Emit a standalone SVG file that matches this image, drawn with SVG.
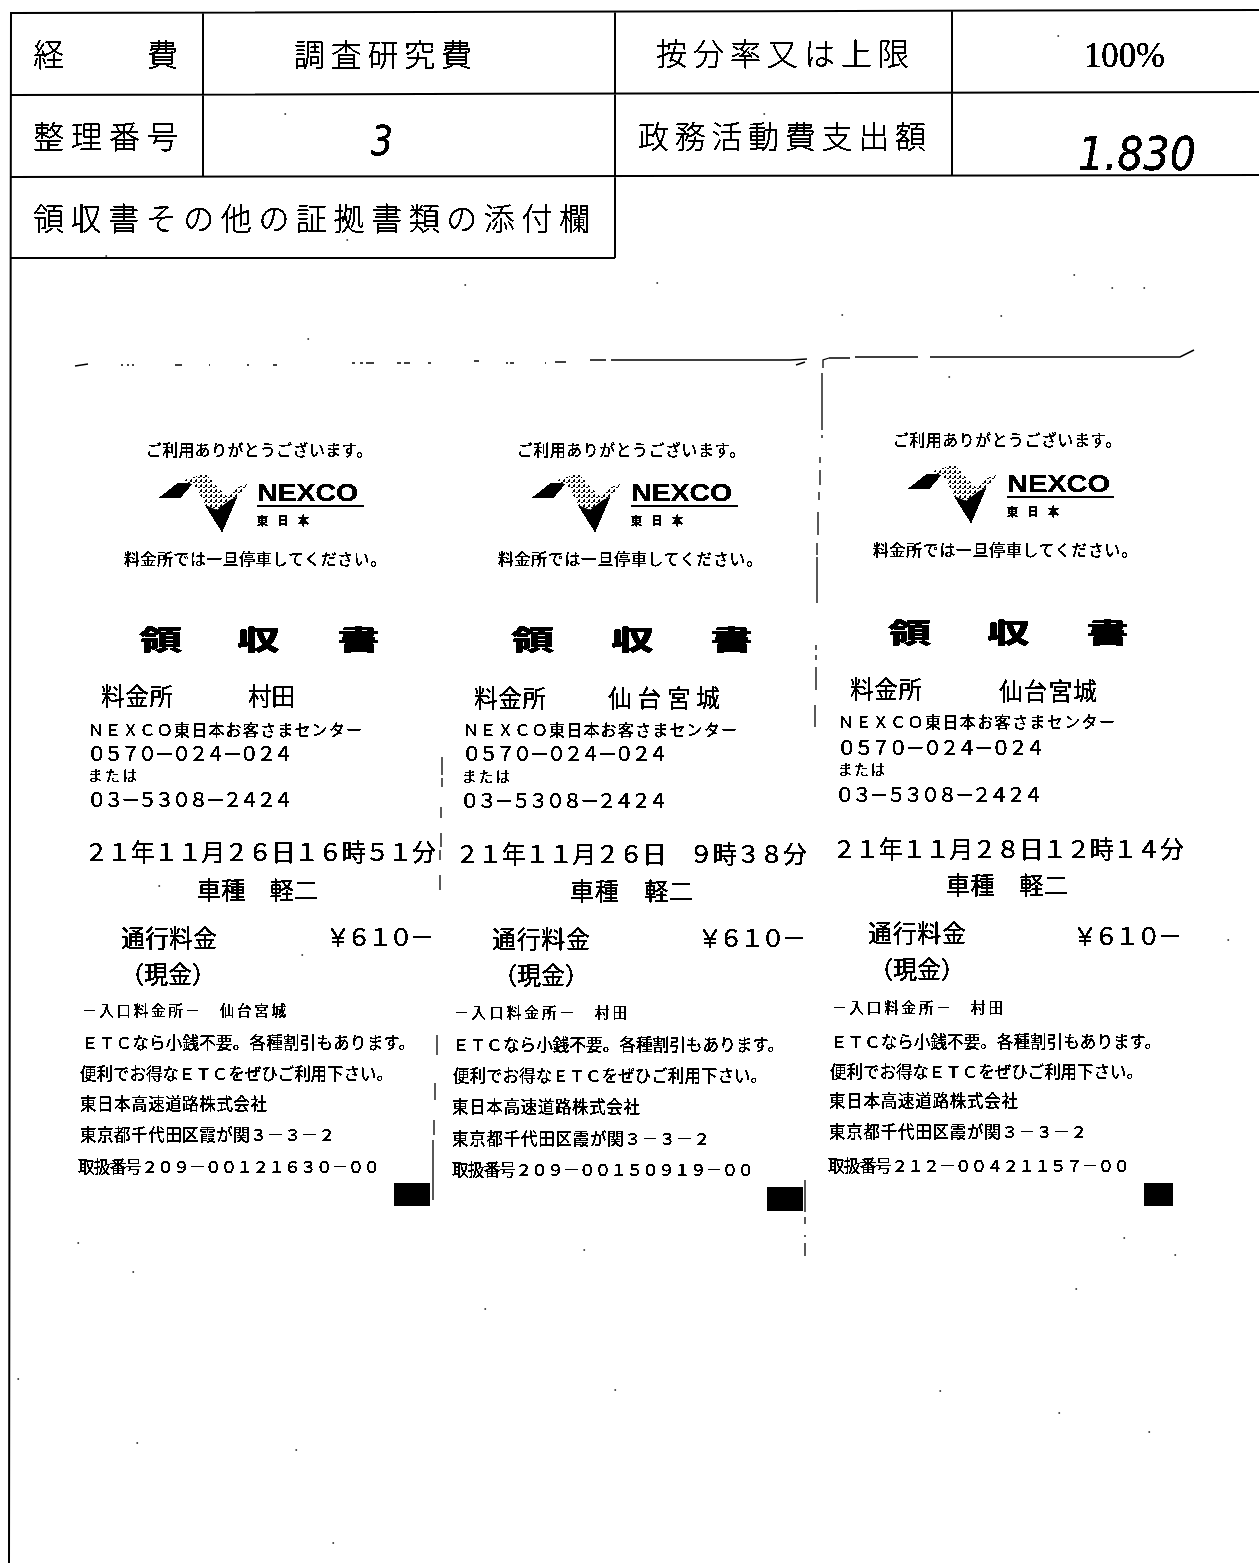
<svg xmlns="http://www.w3.org/2000/svg" xmlns:xlink="http://www.w3.org/1999/xlink" width="1259" height="1563" viewBox="0 0 1259 1563">
<style>
text{font-family:"Noto Sans CJK JP","Noto Sans",sans-serif;fill:#000}
.t{font-size:31px;font-weight:300}
.a{font-size:15.8px}
.h{font-size:27px;font-weight:900}
.m{font-size:23.5px}
.n{font-size:16px}
.p{font-size:19.5px}
.d{font-size:24px}
.s{font-size:14.5px}
.e{font-size:16.5px}
.nx{font-family:"Liberation Sans",Arial,sans-serif;font-size:24px;font-weight:700}
.tn{font-size:11px;font-weight:700}
.r{stroke:#000;stroke-width:2;fill:none}
.c{stroke:#000;stroke-width:1.6;fill:none}
.v{stroke:#000;stroke-width:1.3;fill:none}
.hw{font-family:"DejaVu Sans",sans-serif;font-style:italic;font-weight:200}
</style>
<defs>
<filter id="bi" x="0" y="0" width="100%" height="100%" filterUnits="objectBoundingBox" color-interpolation-filters="sRGB"><feComponentTransfer><feFuncA type="discrete" tableValues="0 1 1 1 1"/></feComponentTransfer></filter>
<pattern id="st" width="5" height="5" patternUnits="userSpaceOnUse"><rect width="5" height="5" fill="#fff"/><rect width="2" height="2" fill="#000"/><rect x="3" y="2" width="2" height="1" fill="#000"/><rect x="1" y="4" width="1" height="1" fill="#000"/></pattern>
<g id="logo">
<path d="M159 498L178 483L193 483L180 498Z" fill="#000"/>
<path d="M185 480L205 474L228 498L233 490L248 483L237 497L230 500L217 510L205 505L197 488Z" fill="url(#st)"/>
<path d="M205 505L217 510L230 500L237 497L222 532Z" fill="#000"/>
</g>
</defs>
<rect width="1259" height="1563" fill="#fff"/>
<g id="table">
<path class="r" d="M10 13L1259 10M10 95L1259 92M10 177L1259 175M10 258L615 258M11 13L9 1563M203 13V177M615 12V258M952 11V175"/>
<g filter="url(#bi)">
<text class="t" x="33" y="66" textLength="145">経　　費</text>
<text class="t" x="294" y="66" textLength="178">調査研究費</text>
<text class="t" x="656" y="65" textLength="253">按分率又は上限</text>
<text x="1084" y="67" textLength="81" lengthAdjust="spacingAndGlyphs" style="font-family:'Liberation Serif',serif;font-size:36px">100%</text>
<text class="t" x="33" y="148" textLength="145">整理番号</text>
<text class="hw" x="371" y="155" textLength="22" lengthAdjust="spacingAndGlyphs" style="font-size:40px">3</text>
<text class="t" x="638" y="148" textLength="288">政務活動費支出額</text>
<text class="hw" x="1078" y="170" textLength="118" lengthAdjust="spacingAndGlyphs" style="font-size:46px">1.830</text>
<text class="t" x="33" y="230" textLength="557">領収書その他の証拠書類の添付欄</text>
</g>
</g>
<g id="edges">
<path class="c" d="M75 366L88 364M121 365h2M127 365h2M132 365h2M175 365h7M209 365h1M247 365h2M273 365h4M352 363h3M360 363h3M366 363h8M397 363h4M404 363h6M428 363h3M474 361h5M506 363h2M510 363h4M545 363h1M555 362h11M590 360h16M611 360H790L807 359M796 365L805 362"/>
<path class="c" d="M829 358H850M855 357H918M930 357H1180L1194 350"/>
<path class="v" d="M823 368V360L829 358M822 373V430M822 435V438M820 457V463M820 470V485M819 492V500M818 512V535M817 543V555M817 557V603M816 645V650M816 655V660M816 667V690M815 705V727"/>
<path class="v" d="M442 757V775M442 778V787M441 807V818M441 833V847M440 850V860M440 875V890M437 1035V1055M435 1083V1100M434 1120V1135M433 1140V1200M805 1180V1212M805 1217V1224M805 1235V1237M805 1243V1256"/>
</g>
<g id="receipt1" filter="url(#bi)">
<text class="a" x="146" y="456" textLength="226">ご利用ありがとうございます。</text>
<use xlink:href="#logo"/>
<text class="nx" x="257" y="501" textLength="101" lengthAdjust="spacingAndGlyphs">NEXCO</text>
<rect x="257" y="505" width="107" height="2"/>
<text class="tn" x="257" y="525" textLength="52">東日本</text>
<text class="a" x="124" y="565" textLength="262">料金所では一旦停車してください。</text>
<text class="h" transform="translate(139,650) scale(1.6,1)">領</text>
<text class="h" transform="translate(237,650) scale(1.6,1)">収</text>
<text class="h" transform="translate(337,650) scale(1.6,1)">書</text>
<text class="m" x="101" y="705" textLength="72">料金所</text>
<text class="m" x="248" y="705" textLength="47">村田</text>
<text class="n" x="88" y="736" textLength="274">ＮＥＸＣＯ東日本お客さまセンター</text>
<text class="p" x="87" y="761" textLength="206">０５７０－０２４－０２４</text>
<text class="s" x="88" y="781" textLength="49">または</text>
<text class="p" x="87" y="807" textLength="206">０３－５３０８－２４２４</text>
<text class="d" x="84" y="861" textLength="352">２１年１１月２６日１６時５１分</text>
<text class="d" x="197" y="899" textLength="121">車種　軽二</text>
<text class="d" x="121" y="947" textLength="96">通行料金</text>
<text class="d" x="326" y="946" textLength="108">￥６１０－</text>
<text class="d" x="120" y="983" textLength="96">（現金）</text>
<text class="s" x="82" y="1016" textLength="204">－入口料金所－　仙台宮城</text>
<text class="e" x="82" y="1049" textLength="333">ＥＴＣなら小銭不要。各種割引もあります。</text>
<text class="e" x="80" y="1080" textLength="313">便利でお得なＥＴＣをぜひご利用下さい。</text>
<text class="e" x="80" y="1110" textLength="187">東日本高速道路株式会社</text>
<text class="e" x="80" y="1141" textLength="255">東京都千代田区霞が関３－３－２</text>
<text class="e" x="78" y="1173" textLength="302">取扱番号２０９－００１２１６３０－００</text>
<rect x="394" y="1183" width="36" height="23"/>
</g>
<g id="receipt2" filter="url(#bi)">
<text class="a" x="517" y="456" textLength="228">ご利用ありがとうございます。</text>
<use xlink:href="#logo" x="373"/>
<text class="nx" x="631" y="501" textLength="101" lengthAdjust="spacingAndGlyphs">NEXCO</text>
<rect x="631" y="505" width="107" height="2"/>
<text class="tn" x="631" y="525" textLength="52">東日本</text>
<text class="a" x="498" y="565" textLength="264">料金所では一旦停車してください。</text>
<text class="h" transform="translate(511,650) scale(1.6,1)">領</text>
<text class="h" transform="translate(611,650) scale(1.6,1)">収</text>
<text class="h" transform="translate(710,650) scale(1.6,1)">書</text>
<text class="m" x="474" y="707" textLength="72">料金所</text>
<text class="m" x="608" y="707" textLength="112">仙台宮城</text>
<text class="n" x="463" y="736" textLength="274">ＮＥＸＣＯ東日本お客さまセンター</text>
<text class="p" x="462" y="761" textLength="206">０５７０－０２４－０２４</text>
<text class="s" x="462" y="782" textLength="48">または</text>
<text class="p" x="460" y="808" textLength="208">０３－５３０８－２４２４</text>
<text class="d" x="455" y="863" textLength="352">２１年１１月２６日　９時３８分</text>
<text class="d" x="570" y="900" textLength="123">車種　軽二</text>
<text class="d" x="492" y="948" textLength="98">通行料金</text>
<text class="d" x="698" y="947" textLength="108">￥６１０－</text>
<text class="d" x="493" y="984" textLength="96">（現金）</text>
<text class="s" x="454" y="1018" textLength="173">－入口料金所－　村田</text>
<text class="e" x="453" y="1051" textLength="331">ＥＴＣなら小銭不要。各種割引もあります。</text>
<text class="e" x="453" y="1082" textLength="314">便利でお得なＥＴＣをぜひご利用下さい。</text>
<text class="e" x="452" y="1113" textLength="188">東日本高速道路株式会社</text>
<text class="e" x="452" y="1145" textLength="258">東京都千代田区霞が関３－３－２</text>
<text class="e" x="452" y="1176" textLength="302">取扱番号２０９－００１５０９１９－００</text>
<rect x="767" y="1187" width="36" height="24"/>
</g>
<g id="receipt3" filter="url(#bi)">
<text class="a" x="893" y="446" textLength="228">ご利用ありがとうございます。</text>
<use xlink:href="#logo" x="749" y="-9"/>
<text class="nx" x="1007" y="492" textLength="103" lengthAdjust="spacingAndGlyphs">NEXCO</text>
<rect x="1007" y="496" width="107" height="2"/>
<text class="tn" x="1007" y="516" textLength="52">東日本</text>
<text class="a" x="873" y="556" textLength="264">料金所では一旦停車してください。</text>
<text class="h" transform="translate(888,643) scale(1.6,1)">領</text>
<text class="h" transform="translate(987,643) scale(1.6,1)">収</text>
<text class="h" transform="translate(1086,643) scale(1.6,1)">書</text>
<text class="m" x="850" y="698" textLength="72">料金所</text>
<text class="m" x="999" y="700" textLength="98">仙台宮城</text>
<text class="n" x="838" y="728" textLength="277">ＮＥＸＣＯ東日本お客さまセンター</text>
<text class="p" x="837" y="755" textLength="208">０５７０－０２４－０２４</text>
<text class="s" x="838" y="775" textLength="47">または</text>
<text class="p" x="835" y="802" textLength="208">０３－５３０８－２４２４</text>
<text class="d" x="832" y="858" textLength="352">２１年１１月２８日１２時１４分</text>
<text class="d" x="946" y="894" textLength="122">車種　軽二</text>
<text class="d" x="868" y="942" textLength="98">通行料金</text>
<text class="d" x="1073" y="945" textLength="109">￥６１０－</text>
<text class="d" x="869" y="978" textLength="96">（現金）</text>
<text class="s" x="832" y="1013" textLength="171">－入口料金所－　村田</text>
<text class="e" x="831" y="1048" textLength="330">ＥＴＣなら小銭不要。各種割引もあります。</text>
<text class="e" x="830" y="1078" textLength="313">便利でお得なＥＴＣをぜひご利用下さい。</text>
<text class="e" x="829" y="1107" textLength="189">東日本高速道路株式会社</text>
<text class="e" x="829" y="1138" textLength="258">東京都千代田区霞が関３－３－２</text>
<text class="e" x="828" y="1172" textLength="302">取扱番号２１２－００４２１１５７－００</text>
<rect x="1144" y="1183" width="29" height="23"/>
</g>
<path id="specks" fill="none" stroke="#000" stroke-width="1.4" stroke-linecap="round" d="M78 1243h.5M584 1250h.5M133 1272h.5M485 1309h.5M1124 1238h.5M1175 1255h.5M1076 1289h.5M18 1379h.5M615 1390h.5M940 1391h.5M1059 1413h.5M1149 1432h.5M137 1443h.5M296 1450h.5M333 1543h.5M106 256h.5M347 240h.5M465 285h.5M308 339h.5M285 114h.5M1058 36h.5M764 114h.5M657 283h.5M1074 275h.5M1112 288h.5M1144 288h.5M842 315h.5M1001 316h.5M949 377h.5M302 955h.5M159 886h.5M1228 940h.5"/>
</svg>
